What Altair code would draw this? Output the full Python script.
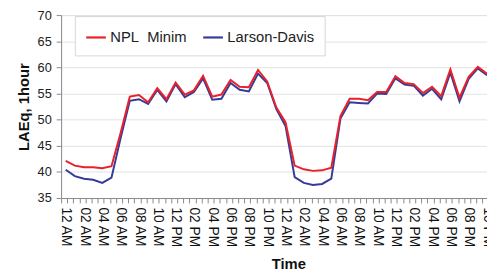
import altair as alt
import pandas as pd

hours = list(range(47))
npl_minim = [42.1, 41.2, 40.9, 40.9, 40.7, 41.1, 47.5, 54.4, 54.7, 53.3,
             56.0, 53.9, 57.1, 54.8, 55.6, 58.4, 54.4, 54.8, 57.6, 56.3,
             56.2, 59.5, 57.3, 52.3, 49.5, 41.2, 40.5, 40.2, 40.3, 40.8,
             50.7, 54.0, 54.0, 53.7, 55.3, 55.3, 58.3, 57.0, 56.8, 55.1,
             56.3, 54.5, 59.6, 54.2, 58.2, 60.1, 58.8]
larson_davis = [40.4, 39.2, 38.7, 38.5, 37.9, 38.9, 46.5, 53.6, 53.9, 53.0,
                55.7, 53.5, 56.8, 54.3, 55.3, 57.9, 53.8, 54.0, 57.0, 55.7,
                55.4, 58.8, 57.0, 52.0, 48.8, 39.0, 37.9, 37.5, 37.7, 38.7,
                50.2, 53.3, 53.2, 53.1, 55.0, 54.9, 57.9, 56.7, 56.5, 54.6,
                55.9, 53.9, 59.0, 53.5, 57.8, 59.8, 58.5]
time_labels = ["12 AM", "02 AM", "04 AM", "06 AM", "08 AM", "10 AM",
               "12 PM", "02 PM", "04 PM", "06 PM", "08 PM", "10 PM"]
series_names = ["NPL Minim", "Larson-Davis"]
series_colors = ["#e8212b", "#363b98"]

df = pd.DataFrame(
    [{"hour": h, "value": v, "series": "Larson-Davis"} for h, v in zip(hours, larson_davis)]
    + [{"hour": h, "value": v, "series": "NPL Minim"} for h, v in zip(hours, npl_minim)]
)

FONT = "Liberation Sans"
x_domain = [-0.5, 46.0]
label_vals = list(range(0, 47, 2))
tick_vals = [round(-0.5 + k * 2 / 3, 4) for k in range(72) if -0.5 + k * 2 / 3 <= 46.0]
lab_arr = "[" + ",".join("'%s'" % t for t in time_labels) + "]"

y_enc = alt.Y("value:Q",
              scale=alt.Scale(domain=[35, 70], nice=False, zero=False),
              axis=alt.Axis(values=list(range(35, 71, 5)), title="LAEq, 1hour",
                            titleFontSize=15, titleFontWeight="bold", titleColor="#111",
                            titleFont=FONT, titlePadding=6,
                            labelFontSize=13, labelColor="#222", labelFont=FONT,
                            labelPadding=5, tickSize=5, tickColor="#8a8a8a",
                            domainColor="#8a8a8a", grid=True, gridColor="#e2e2e2"))

color_enc = alt.Color("series:N",
                      scale=alt.Scale(domain=series_names, range=series_colors),
                      legend=alt.Legend(orient="none", legendX=14, legendY=1,
                                        direction="horizontal", title=None,
                                        symbolType="stroke", symbolSize=400,
                                        symbolStrokeWidth=2.2, labelFontSize=15,
                                        labelFont=FONT, labelColor="#222",
                                        labelExpr="datum.label == 'NPL Minim' ? 'NPL\u00a0 Minim' : datum.label",
                                        labelOffset=3, columnPadding=12,
                                        padding=10, strokeColor="#d6d6d6",
                                        fillColor="white"))

blue = alt.Chart(df).transform_filter(alt.datum.series == "Larson-Davis").mark_line(
    strokeWidth=2, clip=True
).encode(
    x=alt.X("hour:Q", scale=alt.Scale(domain=x_domain, nice=False, zero=False),
            axis=alt.Axis(orient="bottom", values=tick_vals, labels=False, title=None,
                          grid=False, domain=False, tickSize=5, tickColor="#8a8a8a")),
    y=y_enc,
    color=color_enc,
)

red = alt.Chart(df).transform_filter(alt.datum.series == "NPL Minim").mark_line(
    strokeWidth=2, clip=True
).encode(
    x=alt.X("hour:Q", scale=alt.Scale(domain=x_domain, nice=False, zero=False),
            axis=alt.Axis(orient="bottom", values=label_vals, ticks=False, tickSize=0,
                          grid=False, domainColor="#8a8a8a",
                          labelExpr=lab_arr + "[floor(datum.value/2) % 12]",
                          labelAngle=90, labelAlign="left", labelBaseline="middle",
                          labelFontSize=14, labelColor="#111", labelFont=FONT,
                          labelPadding=9, labelBound=False, labelOverlap=False,
                          title="Time", titleFont=FONT,
                          titleFontSize=15, titleFontWeight="bold", titleColor="#111",
                          titleX=231, titleY=72, titleBaseline="alphabetic")),
    y=y_enc,
    color=color_enc,
)

chart = alt.layer(blue, red).resolve_axis(x="independent").properties(
    width=433, height=186,
    autosize=alt.AutoSizeParams(type="none"),
    padding={"left": 54, "top": 5, "right": 0, "bottom": 74},
).configure_view(stroke="#9a9a9a", strokeWidth=1).configure(font=FONT)

chart.save("out.html", embed_options={"renderer": "svg", "actions": False})
